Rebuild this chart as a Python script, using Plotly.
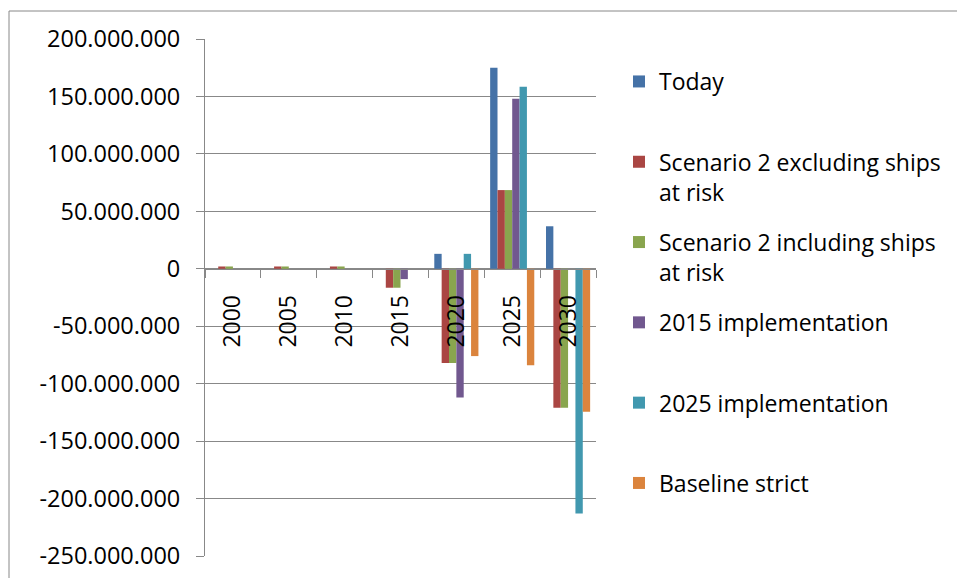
import plotly.graph_objects as go

# ---- data ----
years = ["2000", "2005", "2010", "2015", "2020", "2025", "2030"]
series_names = [
    "Today",
    "Scenario 2 excluding ships<br>at risk",
    "Scenario 2 including ships<br>at risk",
    "2015 implementation",
    "2025 implementation",
    "Baseline strict",
]
today = [0, 0, 0, 0, 13e6, 175e6, 37e6]
scen2_excl = [2e6, 2e6, 2e6, -16.5e6, -82e6, 68.5e6, -121e6]
scen2_incl = [2e6, 2e6, 2e6, -16.5e6, -82e6, 68.5e6, -121e6]
impl_2015 = [0, 0, 0, -9e6, -112e6, 148e6, 0]
impl_2025 = [0, 0, 0, 0, 13e6, 158.5e6, -213e6]
baseline_strict = [0, 0, 0, 0, -76e6, -84e6, -124.5e6]
series_values = [today, scen2_excl, scen2_incl, impl_2015, impl_2025, baseline_strict]

y_tick_vals = [200e6, 150e6, 100e6, 50e6, 0, -50e6, -100e6, -150e6, -200e6, -250e6]
y_tick_text = ["200.000.000", "150.000.000", "100.000.000", "50.000.000", "0",
               "-50.000.000", "-100.000.000", "-150.000.000", "-200.000.000", "-250.000.000"]

colors = ["#4572A7", "#AA4643", "#89A54E", "#71588F", "#4198AF", "#DB843D"]

# ---- figure (page margin removed by post_script, so figure starts at 0,0) ----
W, H = 957, 578
ML, MT = 205, 39
plot_w, plot_h = 391, 517
MR = W - ML - plot_w
MB = H - MT - plot_h

fig = go.Figure()
for i, (name, vals) in enumerate(zip(series_names, series_values)):
    if "<br>" not in name:
        name = name + "<br> "
    fig.add_trace(go.Bar(
        x=years, y=vals, name=name, legendgroup=f"g{i}",
        marker=dict(color=colors[i], line=dict(width=0)),
    ))

ymin, ymax = min(y_tick_vals), max(y_tick_vals)
zero_pos = (0 - ymin) / (ymax - ymin)

font_family = "Open Sans"
grid_col = "#888888"

# chart-area frame (only left and top edges are visible in the picture)
fx0 = (9 - ML) / plot_w
fy1 = (plot_h + (MT - 11)) / plot_h
frame = [
    dict(type="line", xref="paper", yref="paper", x0=fx0, x1=fx0,
         y0=-(MB + 5) / plot_h, y1=fy1,
         line=dict(color=grid_col, width=1), layer="below"),
    dict(type="line", xref="paper", yref="paper", x0=fx0, x1=(W - ML + 5) / plot_w,
         y0=fy1, y1=fy1, line=dict(color=grid_col, width=1), layer="below"),
]

fig.update_layout(
    width=W, height=H,
    margin=dict(l=ML, r=MR, t=MT, b=MB, autoexpand=False),
    paper_bgcolor="white", plot_bgcolor="white",
    barmode="group", bargap=0.21, bargroupgap=0,
    font=dict(family=font_family, color="black", size=23),
    showlegend=True,
    legend=dict(
        x=(619 - ML) / plot_w, xanchor="left",
        y=(plot_h - (60 - MT)) / plot_h, yanchor="top",
        traceorder="grouped", tracegroupgap=17.5, valign="top",
        font=dict(family=font_family, size=23, color="black"),
        bgcolor="rgba(0,0,0,0)",
    ),
    xaxis=dict(
        type="category", anchor="free", position=zero_pos,
        showline=True, linecolor=grid_col, linewidth=1,
        ticks="outside", ticklen=8, tickcolor=grid_col, tickwidth=1,
        tickson="boundaries", tickangle=-90, ticklabelstandoff=16,
        showgrid=False, zeroline=False,
        tickfont=dict(family=font_family, size=23, color="black"),
    ),
    yaxis=dict(
        range=[ymin, ymax], tickvals=y_tick_vals, ticktext=y_tick_text,
        showline=True, linecolor=grid_col, linewidth=1,
        ticks="outside", ticklen=8, tickcolor=grid_col, tickwidth=1,
        showgrid=True, gridcolor=grid_col, gridwidth=1, zeroline=False,
        ticklabelstandoff=11,
        tickfont=dict(family=font_family, size=23.5, color="black"),
    ),
    shapes=frame,
)

fig.write_html(
    "out.html",
    config={"displayModeBar": False},
    post_script="document.body.style.margin='0';document.body.style.overflow='hidden';",
)
